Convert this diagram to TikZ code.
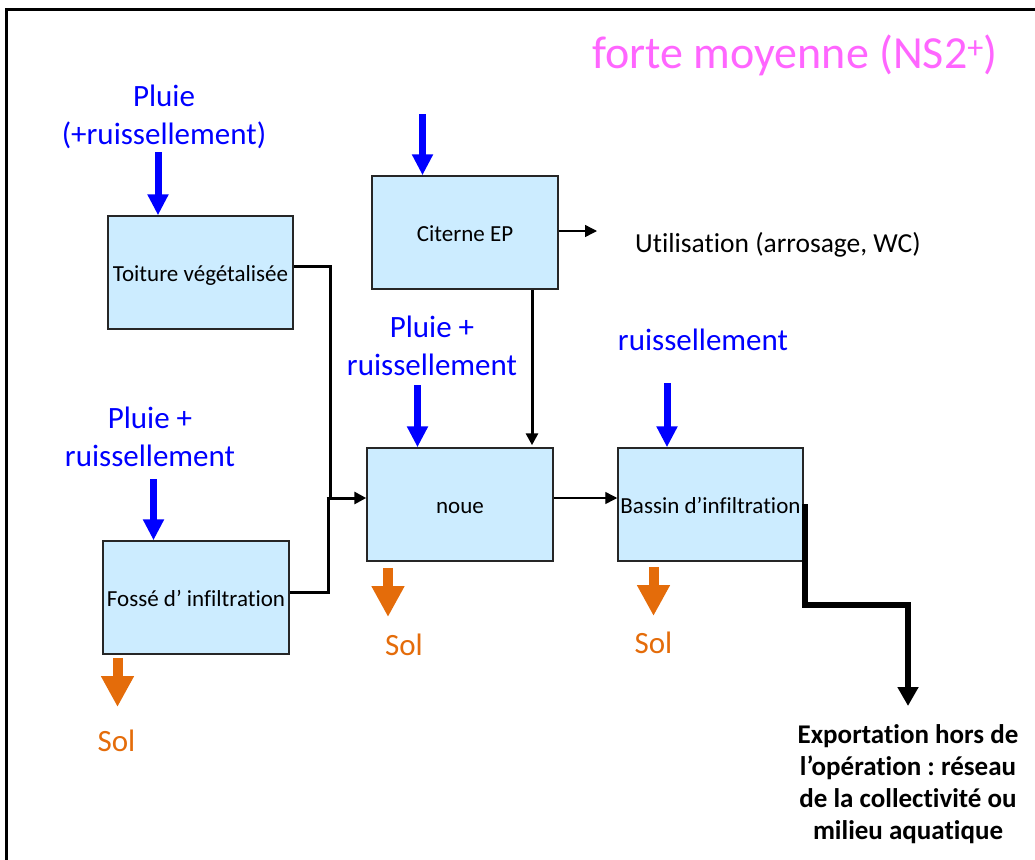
\documentclass[tikz,border=0pt]{standalone}
\usepackage{fontspec}
\setmainfont[Ligatures=NoCommon]{Carlito}
\usetikzlibrary{arrows.meta}
\definecolor{boxfill}{HTML}{CCECFF}
\definecolor{rainblue}{HTML}{0000FF}
\definecolor{soilorange}{HTML}{E46C0A}
\definecolor{titlemag}{HTML}{FF66FF}
\tikzset{
  stage/.style={draw=black!85, line width=1.5pt, fill=boxfill, minimum width=185pt,
    minimum height=113pt, inner sep=0pt, text height=17pt, text depth=0pt,
    font=\fontsize{23}{28}\selectfont},
  bluelbl/.style={text=rainblue, align=center, inner sep=0pt, font=\fontsize{31}{37.5}\selectfont},
  sollbl/.style={text=soilorange, inner sep=0pt, font=\fontsize{31}{37}\selectfont},
  rain/.style={draw=rainblue, line width=7pt, -{Triangle[width=20pt,length=21pt]}},
  soil/.style={draw=soilorange, line width=10pt, -{Triangle[width=31pt,length=31pt]}},
  flow/.style={draw=black, line width=3pt, -{Triangle[width=12pt,length=12pt]}},
  thinflow/.style={draw=black, line width=1.4pt, -{Triangle[width=12pt,length=12pt]}},
  export/.style={draw=black, line width=6.5pt, -{Triangle[width=20pt,length=19pt]}},
}
\begin{document}
\frenchspacing
\begin{tikzpicture}[x=1pt,y=-1pt]
\useasboundingbox (0,0) rectangle (1035,859);
% frame
\draw[line width=3pt] (6,880) -- (6,10) -- (1060,10);
% title
\node[anchor=base, inner sep=0pt, text=titlemag, font=\fontsize{46}{50}\selectfont] (title) at (795,68) {forte moyenne (NS2\textsuperscript{+})};
% boxes
\node[stage] (toit) at (200.5,272.5) {Toiture végétalisée};
\node[stage, minimum width=186pt] (citerne) at (465,232.5) {Citerne EP};
\node[stage, minimum width=186pt] (fosse) at (196,597.5) {Fossé d’ infiltration};
\node[stage, minimum width=186pt] (noue) at (460,504.5) {noue};
\node[stage] (bassin) at (710.5,504.5) {Bassin d’infiltration};
% blue labels (base = last line)
\node[bluelbl, anchor=base] (l1) at (164,144) {Pluie\\(+ruissellement)};
\node[bluelbl, anchor=base] (l2) at (150,466) {Pluie +\\ruissellement};
\node[bluelbl, anchor=base] (l3) at (432,375) {Pluie +\\ruissellement};
\node[bluelbl, anchor=base] (l4) at (703,350) {ruissellement};
% other texts
\node[anchor=base west, inner sep=0pt, font=\fontsize{27.5}{30}\selectfont] (util) at (635,252) {Utilisation (arrosage, WC)};
\node[sollbl, anchor=base] (s1) at (116.5,751) {Sol};
\node[sollbl, anchor=base] (s2) at (404,655) {Sol};
\node[sollbl, anchor=base] (s3) at (653.5,653) {Sol};
\node[anchor=base, align=center, inner sep=0pt, font=\bfseries\fontsize{27}{31.7}\selectfont] (ex) at (908,839)
  {Exportation hors de\\l’opération : réseau\\de la collectivité ou\\milieu aquatique};
% coordinates
\coordinate (r1) at (158,152);
\coordinate (r2) at (422.5,114);
\coordinate (r3) at (153.5,479);
\coordinate (r4) at (417.5,385);
\coordinate (r5) at (667,383);
\coordinate (j) at (330,498);
\coordinate (use) at (597,231);
\coordinate (o1) at (117.5,707);
\coordinate (o2) at (388,617);
\coordinate (o3) at (653.5,616);
\coordinate (exp) at (908,706);
% rain arrows
\draw[rain] (r1) -- (r1 |- toit.north);
\draw[rain] (r2) -- (r2 |- citerne.north);
\draw[rain] (r3) -- (r3 |- fosse.north);
\draw[rain] (r4) -- (r4 |- noue.north);
\draw[rain] (r5) -- (r5 |- bassin.north);
% soil arrows
\draw[soil] ([yshift=-3pt]o1 |- fosse.south) -- (o1);
\draw[soil] ([yshift=-6pt]o2 |- noue.south) -- (o2);
\draw[soil] ([yshift=-5pt]o3 |- bassin.south) -- (o3);
% flows
\draw[line width=3pt] ([yshift=6.5pt]toit.east) -| (j);
\draw[line width=3pt] ([yshift=5.5pt]fosse.east) -| ([xshift=-2pt]j);
\draw[flow] ([xshift=-3.5pt]j) -- (j -| noue.west);
\draw[flow, shorten >=2pt] ([xshift=67pt]citerne.south) -- ([xshift=72pt]noue.north);
\draw[thinflow] ([yshift=1.5pt]citerne.east) -- (use);
\draw[thinflow] ([yshift=6.5pt]noue.east) -- ([yshift=6.5pt]bassin.west);
\draw[export] ([xshift=1pt, yshift=0.5pt]bassin.east) -- ++(0,101) -| (exp);
\end{tikzpicture}
\end{document}
